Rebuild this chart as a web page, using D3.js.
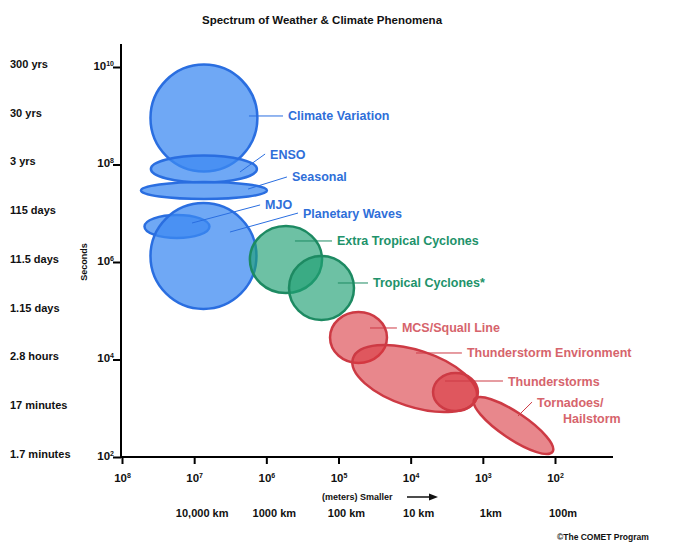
<!DOCTYPE html>
<html><head><meta charset="utf-8">
<script src="https://cdn.jsdelivr.net/npm/d3@7"></script>
<style>
body{margin:0;background:#fff}
svg{display:block;font-family:"Liberation Sans",Arial,sans-serif;font-weight:bold}
</style>
</head><body>
<svg id="chart" width="680" height="552"></svg>
<script>
// ---------- data ----------
const phenomena = ["Climate Variation","ENSO","Seasonal","MJO","Planetary Waves",
  "Extra Tropical Cyclones","Tropical Cyclones*","MCS/Squall Line",
  "Thunderstorm Environment","Thunderstorms","Tornadoes/Hailstorm"];
const family = ["climate","climate","climate","climate","climate",
  "synoptic","synoptic","meso","meso","meso","meso"];
// horizontal scale (meters): largest and smallest
const lengthMax = [4.03e7, 3.98e7, 5.46e7, 4.88e7, 4.03e7, 1.69e6, 4.85e5, 1.31e5, 6.30e4, 4.9e3, 1.31e3];
const lengthMin = [1.33e6, 1.35e6, 9.8e5, 6.14e6, 1.37e6, 1.69e5, 6.1e4, 2.13e4, 1.23e3, 1.17e3, 108];
// time scale (seconds): longest and shortest
const timeMax = [1.12e10, 1.53e8, 4.38e7, 9.2e6, 1.62e7, 5.47e6, 1.33e6, 9.4e4, 1.05e4, 5.28e3, 1.53e3];
const timeMin = [7.2e7, 4.28e7, 1.96e7, 3.1e6, 1.09e5, 2.31e5, 6.47e4, 8.5e3, 1.58e3, 877, 128];
// null = spans the full box; number = tilted along the diagonal, minor/major ratio
const tilt = [null,null,null,null,null,null,null,null,0.435,null,0.28];
// leader lines: [meters, seconds] from -> to
const leaderFrom = [[1.74e6,9.89e8],[2.32e6,7.02e7],[1.79e6,3.14e7],[1.07e7,6.31e6],[3.19e6,4.12e6],
  [4.01e5,2.70e6],[1.02e5,3.71e5],[3.66e4,4.43e4],[8.43e3,1.36e4],[3.34e3,3.62e3],[326,693]];
const leaderTo = [[5.87e5,9.89e8],[1.04e6,1.64e8],[5.18e5,5.55e7],[1.22e6,1.48e7],[3.64e5,1.01e7],
  [1.23e5,2.70e6],[3.9e4,3.71e5],[1.55e4,4.43e4],[1.95e3,1.36e4],[526,3.62e3],[208,1.34e3]];

const timeTicks = [1e10,1e8,1e6,1e4,1e2];
const lengthTicks = [1e8,1e7,1e6,1e5,1e4,1e3,1e2];
const timeLabelValues = [1e10,1e9,1e8,1e7,1e6,1e5,1e4,1e3,1e2];
const timeLabels = ["300 yrs","30 yrs","3 yrs","115 days","11.5 days","1.15 days","2.8 hours","17 minutes","1.7 minutes"];
const lengthLabelValues = [1e7,1e6,1e5,1e4,1e3,1e2];
const lengthLabels = ["10,000 km","1000 km","100 km","10 km","1km","100m"];

const title = "Spectrum of Weather & Climate Phenomena";

// ---------- styles ----------
const colors = {
  climate:  {fill:"rgb(61,138,241)", op:0.74, stroke:"#2a6ee0", text:"#2f6fd9"},
  synoptic: {fill:"rgb(30,160,115)", op:0.65, stroke:"#1d8a62", text:"#21926a"},
  meso:     {fill:"rgb(217,55,63)",  op:0.60, stroke:"#cd3a44", text:"#d6646c"}
};

// ---------- layout ----------
const svg = d3.select("#chart");
const x = d3.scaleLog().domain([1e8,1e2]).range([122,555]);
const y = d3.scaleLog().domain([1e2,1e10]).range([457,67]);
const axisX0 = 121, axisY0 = 457, axisXEnd = 613, axisYTop = 44;

svg.append("text").attr("x",322).attr("y",24).attr("text-anchor","middle")
  .attr("font-size",11.5).attr("fill","#111").text(title);

// ellipses
const data = phenomena.map((n,i)=>({name:n,fam:family[i],lMax:lengthMax[i],lMin:lengthMin[i],
  tMax:timeMax[i],tMin:timeMin[i],tilt:tilt[i],from:leaderFrom[i],to:leaderTo[i]}));

const eg = svg.append("g");
data.forEach(d=>{
  const c = colors[d.fam];
  const x1 = x(d.lMax), x2 = x(d.lMin), y1 = y(d.tMax), y2 = y(d.tMin);
  const cx = (x1+x2)/2, cy = (y1+y2)/2;
  let e;
  if (d.tilt == null) {
    e = eg.append("ellipse").attr("cx",cx).attr("cy",cy)
      .attr("rx",Math.abs(x2-x1)/2).attr("ry",Math.abs(y2-y1)/2);
  } else {
    const a = Math.hypot(x2-x1,y2-y1)/2;
    const ang = Math.atan2(y2-y1,x2-x1)*180/Math.PI;
    e = eg.append("ellipse").attr("cx",0).attr("cy",0).attr("rx",a).attr("ry",a*d.tilt)
      .attr("transform",`translate(${cx},${cy}) rotate(${ang})`);
  }
  e.attr("fill",c.fill).attr("fill-opacity",c.op).attr("stroke",c.stroke).attr("stroke-width",2.5);
});

// leader lines and labels
const lg = svg.append("g");
data.forEach(d=>{
  const c = colors[d.fam];
  const fx = x(d.from[0]), fy = y(d.from[1]), tx = x(d.to[0]), ty = y(d.to[1]);
  lg.append("line").attr("x1",fx).attr("y1",fy).attr("x2",tx).attr("y2",ty)
    .attr("stroke",c.stroke).attr("stroke-width",1);
  const parts = d.name.split("/");
  const t = lg.append("text").attr("x",tx+5).attr("y",ty).attr("dy","0.36em")
    .attr("font-size",12.5).attr("fill",c.text);
  if (parts.length > 1 && d.name.indexOf("Squall") < 0) {
    t.append("tspan").attr("x",tx+5).text(parts[0]+"/");
    t.append("tspan").attr("x",tx+31).attr("dy",16).text(parts[1]);
  } else {
    t.text(d.name);
  }
});

// axes
function supLabel(sel){
  sel.each(function(v){
    const e = Math.round(Math.log10(v));
    const t = d3.select(this); t.text(null);
    t.append("tspan").text("10");
    t.append("tspan").attr("font-size",7).attr("dy","-0.55em").text(e);
  });
}
const yAxis = d3.axisLeft(y).tickValues(timeTicks).tickSize(8).tickPadding(-1).tickFormat(()=>"");
const gy = svg.append("g").attr("transform",`translate(${axisX0},0)`).call(yAxis);
gy.select(".domain").remove();
gy.selectAll(".tick line").attr("stroke","#000").attr("stroke-width",2);
gy.selectAll(".tick text").attr("font-size",11.5).attr("fill","#111").attr("font-family",null)
  .attr("dy","0.2em").call(supLabel);

const xAxis = d3.axisBottom(x).tickValues(lengthTicks).tickSize(7).tickPadding(10).tickFormat(()=>"");
const gx = svg.append("g").attr("transform",`translate(0,${axisY0})`).call(xAxis);
gx.select(".domain").remove();
gx.selectAll(".tick line").attr("stroke","#000").attr("stroke-width",2);
gx.selectAll(".tick text").attr("font-size",11.5).attr("fill","#111").attr("font-family",null)
  .call(supLabel);

svg.append("line").attr("x1",axisX0).attr("x2",axisX0).attr("y1",axisYTop).attr("y2",axisY0+1)
  .attr("stroke","#000").attr("stroke-width",2);
svg.append("line").attr("x1",axisX0-1).attr("x2",axisXEnd).attr("y1",axisY0).attr("y2",axisY0)
  .attr("stroke","#000").attr("stroke-width",2);

// time labels on the left
svg.append("g").selectAll("text").data(timeLabelValues).join("text")
  .attr("x",10).attr("y",v=>y(v)-3).attr("dy","0.36em").attr("font-size",11).attr("fill","#111")
  .text((v,i)=>timeLabels[i]);

// distance labels underneath
svg.append("g").selectAll("text").data(lengthLabelValues).join("text")
  .attr("x",v=>x(v)+8).attr("y",513).attr("dy","0.36em").attr("text-anchor","middle")
  .attr("font-size",11).attr("fill","#111").text((v,i)=>lengthLabels[i]);

// axis titles
svg.append("text").attr("transform","translate(87,262) rotate(-90)").attr("text-anchor","middle")
  .attr("font-size",9).attr("fill","#111").text("Seconds");
svg.append("text").attr("x",322).attr("y",497).attr("dy","0.36em").attr("font-size",9)
  .attr("fill","#111").text("(meters) Smaller");
svg.append("line").attr("x1",407).attr("x2",432).attr("y1",497).attr("y2",497)
  .attr("stroke","#111").attr("stroke-width",1.5);
svg.append("path").attr("d","M429,493.5 L438,497 L429,500.5 Z").attr("fill","#111");

svg.append("text").attr("x",557).attr("y",537).attr("dy","0.36em").attr("font-size",8.5)
  .attr("fill","#111").text("\u00A9The COMET Program");
</script>
</body></html>
